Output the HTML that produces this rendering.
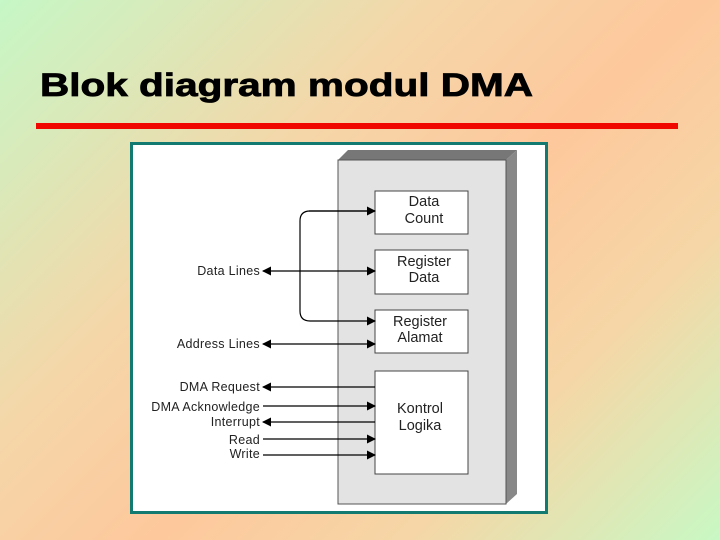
<!DOCTYPE html>
<html><head><meta charset="utf-8"><style>
html,body{margin:0;padding:0;width:720px;height:540px;overflow:hidden}
body{background:linear-gradient(135deg,#c6f7c6 0%,#f5d6a8 35%,#fdc89c 55%,#f6d6a6 75%,#c8f8c4 100%);}
svg{display:block}
</style></head><body>
<svg width="720" height="540" viewBox="0 0 720 540" xmlns="http://www.w3.org/2000/svg" font-family="Liberation Sans, sans-serif">
<defs>
<marker id="a" markerWidth="9" markerHeight="9" refX="8" refY="4.5" orient="auto" markerUnits="userSpaceOnUse"><path d="M0,0 L9,4.5 L0,9 z" fill="#000"/></marker>
<marker id="b" markerWidth="9" markerHeight="9" refX="1" refY="4.5" orient="auto" markerUnits="userSpaceOnUse"><path d="M9,0 L0,4.5 L9,9 z" fill="#000"/></marker>
</defs>
<text x="40" y="96" font-size="32" font-weight="bold" stroke="#000" stroke-width="0.8" textLength="493" lengthAdjust="spacingAndGlyphs">Blok diagram modul DMA</text>
<rect x="36" y="123" width="642" height="6" fill="#f00800"/>
<rect x="131.5" y="143.5" width="415" height="369" fill="#fff" stroke="#137a72" stroke-width="3"/>
<polygon points="338,160 348,150 517,150 506,160" fill="#777"/>
<polygon points="506,160 517,150 517,494 506,504" fill="#888"/>
<rect x="338" y="160" width="168" height="344" fill="#e3e3e3" stroke="#555"/>
<g fill="#fff" stroke="#444">
<rect x="375" y="191" width="93" height="43"/>
<rect x="375" y="250" width="93" height="44"/>
<rect x="375" y="310" width="93" height="43"/>
<rect x="375" y="371" width="93" height="103"/>
</g>
<g font-size="14.5" text-anchor="middle" fill="#222">
<text x="424" y="206">Data</text><text x="424" y="223">Count</text>
<text x="424" y="266">Register</text><text x="424" y="282">Data</text>
<text x="420" y="326">Register</text><text x="420" y="342">Alamat</text>
<text x="420" y="413">Kontrol</text><text x="420" y="430">Logika</text>
</g>
<g stroke="#000" stroke-width="1.2" fill="none">
<path d="M375,211 H310 Q300,211 300,221 V311 Q300,321 310,321 H375" marker-end="url(#a)"/>
<path d="M309,211 H375" marker-end="url(#a)"/>
<line x1="263" y1="271" x2="375" y2="271" marker-start="url(#b)" marker-end="url(#a)"/>
<line x1="263" y1="344" x2="375" y2="344" marker-start="url(#b)" marker-end="url(#a)"/>
<line x1="375" y1="387" x2="263" y2="387" marker-end="url(#a)"/>
<line x1="263" y1="406" x2="375" y2="406" marker-end="url(#a)"/>
<line x1="375" y1="422" x2="263" y2="422" marker-end="url(#a)"/>
<line x1="263" y1="439" x2="375" y2="439" marker-end="url(#a)"/>
<line x1="263" y1="455" x2="375" y2="455" marker-end="url(#a)"/>
</g>
<g font-size="12.5" text-anchor="end" fill="#222" letter-spacing="0.3">
<text x="260" y="275">Data Lines</text>
<text x="260" y="348">Address Lines</text>
<text x="260" y="391">DMA Request</text>
<text x="260" y="411">DMA Acknowledge</text>
<text x="260" y="426">Interrupt</text>
<text x="260" y="444">Read</text>
<text x="260" y="458">Write</text>
</g>
</svg>
</body></html>
